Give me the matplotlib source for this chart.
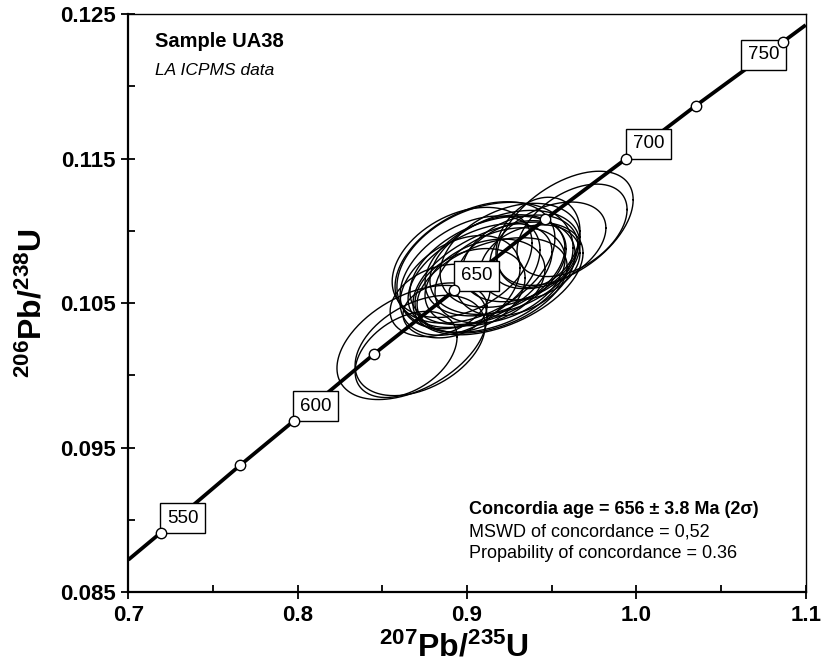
import numpy as np
import matplotlib.pyplot as plt
from matplotlib.ticker import MultipleLocator, FixedLocator, FormatStrFormatter

plt.rcParams['font.family'] = ['Liberation Sans', 'DejaVu Sans']
plt.rcParams['mathtext.fontset'] = 'custom'
plt.rcParams['mathtext.rm'] = 'Liberation Sans'
plt.rcParams['mathtext.bf'] = 'Liberation Sans:bold'
plt.rcParams['mathtext.default'] = 'bf'

# concordia curve: tick ages (Ma) and their 207Pb/235U, 206Pb/238U ratios
ages = [550, 575, 600, 625, 650, 675, 700, 725, 750]
conc_x = [0.7191, 0.7660, 0.7977, 0.8453, 0.8925, 0.9461, 0.9941, 1.0350, 1.0864]
conc_y = [0.08910, 0.09377, 0.09684, 0.10149, 0.10587, 0.11079, 0.11500, 0.11865, 0.12306]
labelled = [550, 600, 650, 700, 750]

# curve ends where it leaves the plot
end_x = [0.7, 1.1]
end_y = [0.08723, 0.12424]

# zircon spots: centre, 2-sigma half extent in x and y, error correlation
ell_cx = [0.9124, 0.9165, 0.9077, 0.9195, 0.9018, 0.9224, 0.9106, 0.9284, 0.9047,
          0.9148, 0.9254, 0.8959, 0.9313, 0.9183, 0.9018, 0.9372, 0.9579, 0.9620,
          0.9419, 0.9478, 0.9106, 0.8971, 0.8675, 0.8640, 0.8870, 0.8723, 0.8841]
ell_cy = [0.10726, 0.10761, 0.10691, 0.10691, 0.10712, 0.10781, 0.10643, 0.10740, 0.10781,
          0.10622, 0.10830, 0.10622, 0.10809, 0.10670, 0.10587, 0.10781, 0.11017, 0.11003,
          0.10920, 0.10899, 0.10747, 0.10781, 0.10227, 0.10144, 0.10449, 0.10206, 0.10518]
ell_ex = [0.0461, 0.0413, 0.0425, 0.0384, 0.0413, 0.0443, 0.0354, 0.0354, 0.0472,
          0.0443, 0.0413, 0.0354, 0.0342, 0.0502, 0.0325, 0.0295, 0.0402, 0.0325,
          0.0248, 0.0342, 0.0520, 0.0413, 0.0443, 0.0301, 0.0248, 0.0384, 0.0295]
ell_ey = [0.00375, 0.00350, 0.00360, 0.00330, 0.00390, 0.00360, 0.00300, 0.00330, 0.00420,
          0.00330, 0.00360, 0.00345, 0.00300, 0.00390, 0.00290, 0.00260, 0.00395, 0.00320,
          0.00312, 0.00300, 0.00450, 0.00381, 0.00395, 0.00298, 0.00190, 0.00347, 0.00250]
ell_rho = [0.40, 0.35, 0.45, 0.35, 0.40, 0.35, 0.30, 0.30, 0.40,
           0.40, 0.35, 0.35, 0.30, 0.45, 0.30, 0.25, 0.50, 0.45,
           0.25, 0.40, 0.30, 0.35, 0.45, 0.40, 0.15, 0.40, 0.30]

fig = plt.figure(figsize=(8.21, 6.71), dpi=100)
ax = fig.add_axes([0.1563, 0.1177, 0.8251, 0.8614])

t = np.linspace(0, 2 * np.pi, 240)
for cx, cy, ex, ey, r in zip(ell_cx, ell_cy, ell_ex, ell_ey, ell_rho):
    ex_line = cx + ex * np.cos(t)
    ey_line = cy + ey * (r * np.cos(t) + np.sqrt(1 - r * r) * np.sin(t))
    ax.plot(ex_line, ey_line, color='black', lw=1.0, zorder=2)

line_x = [end_x[0]] + conc_x + [end_x[1]]
line_y = [end_y[0]] + conc_y + [end_y[1]]
ax.plot(line_x, line_y, color='black', lw=2.7, zorder=3, solid_capstyle='butt')
ax.plot(conc_x, conc_y, 'o', ms=7.5, mfc='white', mec='black', mew=1.0, zorder=5)

for age, x, y in zip(ages, conc_x, conc_y):
    if age not in labelled:
        continue
    if age == 750:
        off, ha, va = (-2.5, -3), 'right', 'top'
    else:
        off, ha, va = (4.5, 4.5), 'left', 'bottom'
    ax.annotate(str(age), (x, y), xytext=off, textcoords='offset points',
                ha=ha, va=va, fontsize=13.5, zorder=4,
                bbox=dict(boxstyle='square,pad=0.35', fc='white', ec='black', lw=1.0))

ax.set_xlim(0.7, 1.1)
ax.set_ylim(0.085, 0.125)
ax.xaxis.set_major_locator(MultipleLocator(0.1))
ax.xaxis.set_minor_locator(MultipleLocator(0.05))
ax.yaxis.set_major_locator(FixedLocator([0.085, 0.095, 0.105, 0.115, 0.125]))
ax.yaxis.set_minor_locator(FixedLocator([0.090, 0.100, 0.110, 0.120]))
ax.xaxis.set_major_formatter(FormatStrFormatter('%.1f'))
ax.yaxis.set_major_formatter(FormatStrFormatter('%.3f'))
ax.tick_params(which='major', direction='inout', length=10, width=1.3,
               labelsize=16, pad=4)
ax.tick_params(which='minor', direction='in', length=5, width=1.3)
ax.tick_params(top=False, right=False)
for lab in ax.get_xticklabels() + ax.get_yticklabels():
    lab.set_fontweight('bold')

ax.spines['left'].set_linewidth(1.6)
ax.spines['bottom'].set_linewidth(1.6)
ax.spines['top'].set_linewidth(1.0)
ax.spines['right'].set_linewidth(1.0)

ax.set_xlabel(r'$^{207}Pb/^{235}U$', fontsize=23)
ax.xaxis.set_label_coords(0.48, -0.07)
ax.set_ylabel(r'$^{206}Pb/^{238}U$', fontsize=23, labelpad=8)

ax.text(0.039, 0.953, 'Sample UA38', transform=ax.transAxes, fontsize=14.5,
        fontweight='bold', va='center', ha='left')
ax.text(0.039, 0.903, 'LA ICPMS data', transform=ax.transAxes, fontsize=12.5,
        style='italic', va='center', ha='left')

ax.text(0.503, 0.142, 'Concordia age = 656 \u00b1 3.8 Ma (2\u03c3)', transform=ax.transAxes,
        fontsize=13, fontweight='bold', va='center', ha='left')
ax.text(0.503, 0.104, 'MSWD of concordance = 0,52', transform=ax.transAxes,
        fontsize=13, va='center', ha='left')
ax.text(0.503, 0.0675, 'Propability of concordance = 0.36', transform=ax.transAxes,
        fontsize=13, va='center', ha='left')

fig.savefig('out.png', dpi=100)
